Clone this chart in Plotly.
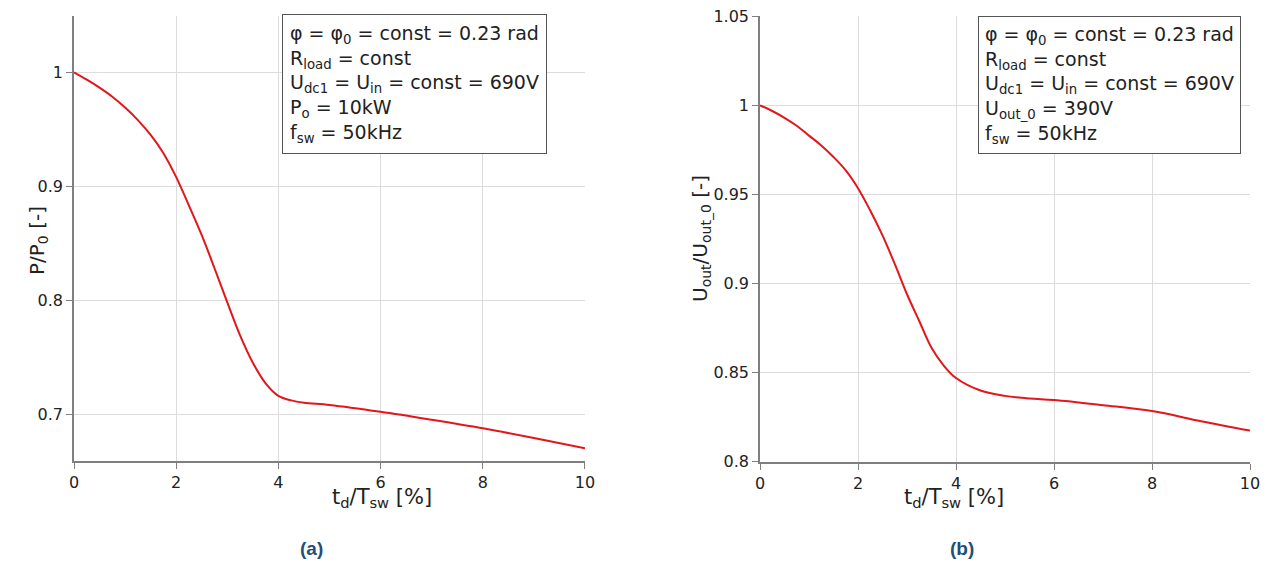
import plotly.graph_objects as go

# ---- data ----
td_a = [0, 0.25, 0.5, 0.75, 1.0, 1.25, 1.5, 1.75, 2.0, 2.25, 2.5, 2.75, 3.0, 3.25, 3.5, 3.75, 4.0, 4.25,
        4.5, 5.0, 6.0, 7.0, 8.0, 9.0, 10.0]
p_ratio = [1.000, 0.9935, 0.9865, 0.9785, 0.969, 0.958, 0.945, 0.929, 0.908, 0.883, 0.857, 0.828, 0.798, 0.769,
           0.745, 0.727, 0.716, 0.712, 0.710, 0.708, 0.702, 0.695, 0.6875, 0.679, 0.670]

td_b = [0, 0.25, 0.5, 0.75, 1.0, 1.25, 1.5, 1.75, 2.0, 2.25, 2.5, 2.75, 3.0, 3.25, 3.5, 3.75, 4.0, 4.5,
        5.0, 5.5, 6.0, 7.0, 8.0, 9.0, 10.0]
u_ratio = [1.000, 0.9968, 0.9930, 0.9885, 0.9830, 0.9775, 0.9710, 0.9635, 0.9535, 0.941, 0.927, 0.911, 0.894,
           0.879, 0.864, 0.854, 0.847, 0.840, 0.837, 0.8355, 0.8347, 0.8318, 0.8285, 0.8228, 0.8175]

x_ticks = [0, 2, 4, 6, 8, 10]
ya_ticks = [0.7, 0.8, 0.9, 1.0]
ya_labels = ["0.7", "0.8", "0.9", "1"]
yb_ticks = [0.8, 0.85, 0.9, 0.95, 1.0, 1.05]
yb_labels = ["0.8", "0.85", "0.9", "0.95", "1", "1.05"]

legend_a = ["φ = φ<sub>0</sub> = const = 0.23 rad", "R<sub>load</sub> = const",
            "U<sub>dc1</sub> = U<sub>in</sub> = const = 690V", "P<sub>o</sub> = 10kW",
            "f<sub>sw</sub> = 50kHz"]
legend_b = ["φ = φ<sub>0</sub> = const = 0.23 rad", "R<sub>load</sub> = const",
            "U<sub>dc1</sub> = U<sub>in</sub> = const = 690V", "U<sub>out_0</sub> = 390V",
            "f<sub>sw</sub> = 50kHz"]

W, H = 1277, 573
FONT = "DejaVu Sans"
RED = "#e3161b"
AX = "#7f7f7f"
GRID = "#dcdcdc"
TXT = "#222222"
OX, OY = 7, 7  # page offset compensation

def px(x):
    return (x - OX) / W

def py(y):
    return 1 - (y - OY) / H

fig = go.Figure()
fig.add_trace(go.Scatter(x=td_a, y=p_ratio, mode="lines",
                         line=dict(color=RED, width=2, shape="spline", smoothing=1.0),
                         xaxis="x", yaxis="y", showlegend=False))
fig.add_trace(go.Scatter(x=td_b, y=u_ratio, mode="lines",
                         line=dict(color=RED, width=2, shape="spline", smoothing=1.0),
                         xaxis="x2", yaxis="y2", showlegend=False))

axis_common = dict(showline=True, linecolor=AX, linewidth=1.5, ticks="outside", ticklen=6, tickcolor=AX,
                   showgrid=True, gridcolor=GRID, gridwidth=1, zeroline=False, automargin=False,
                   ticklabeloverflow="allow",
                   tickfont=dict(family=FONT, size=16, color=TXT))

fig.update_layout(
    width=W, height=H, margin=dict(l=0, r=0, t=0, b=0, autoexpand=False),
    paper_bgcolor="white", plot_bgcolor="white",
    xaxis=dict(domain=[px(73), px(584)], range=[0, 10.0001], tickvals=x_ticks, anchor="y", **axis_common),
    yaxis=dict(domain=[py(460), py(15)], range=[0.6588, 1.0494], tickvals=ya_ticks,
               ticktext=ya_labels, anchor="x", **axis_common),
    xaxis2=dict(domain=[px(759), px(1249)], range=[0, 10.0001], tickvals=x_ticks, anchor="y2", **axis_common),
    yaxis2=dict(domain=[py(461), py(15)], range=[0.7999, 1.0501], tickvals=yb_ticks,
                ticktext=yb_labels, anchor="x2", **axis_common),
)

ann = []
# legend boxes
ann.append(dict(x=px(281), y=py(13), xref="paper", yref="paper", xanchor="left", yanchor="top",
                text="<br>".join(legend_a), showarrow=False, align="left",
                font=dict(family=FONT, size=19, color=TXT), bgcolor="white",
                bordercolor="#555555", borderwidth=1, borderpad=7))
ann.append(dict(x=px(977), y=py(15), xref="paper", yref="paper", xanchor="left", yanchor="top",
                text="<br>".join(legend_b), showarrow=False, align="left",
                font=dict(family=FONT, size=19, color=TXT), bgcolor="white",
                bordercolor="#555555", borderwidth=1, borderpad=6))
# axis titles
xt = "t<sub>d</sub>/T<sub>sw</sub> [%]"
ann.append(dict(x=px(329), y=py(512), xref="paper", yref="paper", text=xt, showarrow=False,
                font=dict(family=FONT, size=21, color=TXT)))
ann.append(dict(x=px(1005), y=py(512), xref="paper", yref="paper", text=xt, showarrow=False,
                font=dict(family=FONT, size=21, color=TXT)))
ann.append(dict(x=px(22), y=py(240), xref="paper", yref="paper", text="P/P<sub>0</sub> [-]", textangle=-90,
                showarrow=False, font=dict(family=FONT, size=20, color=TXT)))
ann.append(dict(x=px(700), y=py(238), xref="paper", yref="paper", text="U<sub>out</sub>/U<sub>out_0</sub> [-]",
                textangle=-90, showarrow=False, font=dict(family=FONT, size=20, color=TXT)))
# captions
ann.append(dict(x=px(297), y=py(560), xref="paper", yref="paper", text="<b>(a)</b>", showarrow=False,
                font=dict(family="Liberation Sans", size=19, color="#1f4e79")))
ann.append(dict(x=px(975), y=py(560), xref="paper", yref="paper", text="<b>(b)</b>", showarrow=False,
                font=dict(family="Liberation Sans", size=19, color="#1f4e79")))
fig.update_layout(annotations=ann)

fig.write_html("out.html")
